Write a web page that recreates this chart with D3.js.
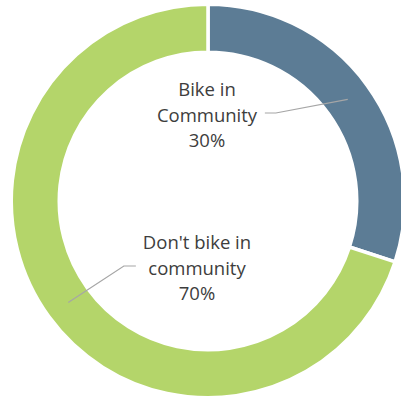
<!DOCTYPE html>
<html>
<head>
<meta charset="utf-8">
<script src="https://cdn.jsdelivr.net/npm/d3@7"></script>
<style>
  html, body { margin: 0; padding: 0; background: #ffffff; }
  svg { display: block; }
</style>
</head>
<body>
<svg id="chart" width="401" height="398"></svg>
<script>
// Share of respondents who bike in their community
const categories = ["Bike in Community", "Don't bike in community"];
const labelLines = [["Bike in", "Community"], ["Don't bike in", "community"]];
const values = [30, 70];
const colors = ["#5c7c95", "#b4d56a"];

const width = 401, height = 398;
const cx = 208, cy = 201;
const outerR = 195, innerR = 150.5;
const sepWidth = 3.5;

// label block centres, relative to the ring centre
const labelOffsets = [[-1, -86], [-11, 67]];
const fontSize = 18.5, lineGap = 25.5;

const svg = d3.select("#chart");
const g = svg.append("g").attr("transform", `translate(${cx},${cy})`);

const data = categories.map((c, i) => ({
  name: c, lines: labelLines[i], value: values[i], color: colors[i],
  offset: labelOffsets[i]
}));
const total = d3.sum(values);
const pct = d3.format(".0%");

const pie = d3.pie().sort(null).value(d => d.value);
const arcs = pie(data);

const arc = d3.arc()
  .innerRadius(innerR - sepWidth / 2)
  .outerRadius(outerR + sepWidth / 2);
const midArc = d3.arc().innerRadius(innerR).outerRadius(outerR);

g.selectAll("path.slice")
  .data(arcs)
  .join("path")
  .attr("class", "slice")
  .attr("d", arc)
  .attr("fill", d => d.data.color)
  .attr("stroke", "#ffffff")
  .attr("stroke-width", sepWidth);

// labels with leader lines to the slice centroids
const labels = g.selectAll("g.label")
  .data(arcs)
  .join("g")
  .attr("class", "label");

labels.each(function (d) {
  const sel = d3.select(this);
  const [lx, ly] = d.data.offset;
  const lines = d.data.lines.concat([pct(d.data.value / total)]);
  const n = lines.length;

  const text = sel.append("text")
    .attr("text-anchor", "middle")
    .attr("font-family", "'Open Sans', 'Noto Sans', sans-serif")
    .attr("font-size", fontSize)
    .attr("fill", "#3d3d3d");
  lines.forEach((t, i) => {
    text.append("tspan")
      .attr("x", lx)
      .attr("y", ly + (i - (n - 1) / 2) * lineGap + fontSize * 0.36)
      .text(t);
  });

  const bb = text.node().getBBox();
  const [px, py] = midArc.centroid(d);
  const right = px > lx;
  const sx = right ? bb.x + bb.width + 7 : bb.x - 7;
  const sy = ly - 2;
  const ex = right ? sx + 11 : sx - 12;

  sel.insert("polyline", "text")
    .attr("points", [[sx, sy], [ex, sy], [px, py]].map(p => p.join(",")).join(" "))
    .attr("fill", "none")
    .attr("stroke", "#a6a6a6")
    .attr("stroke-width", 1.2);
});
</script>
</body>
</html>
